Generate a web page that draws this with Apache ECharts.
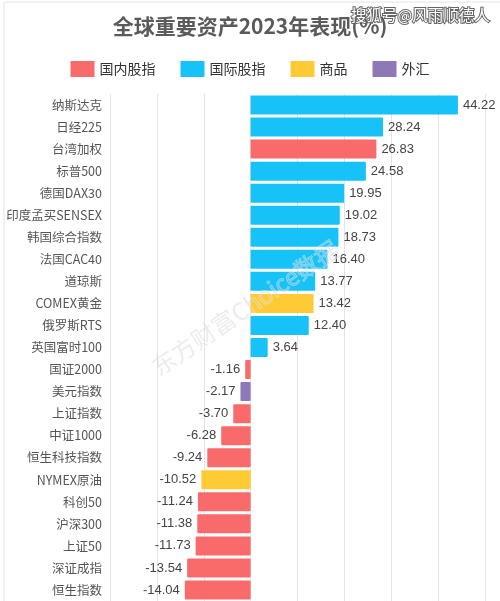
<!DOCTYPE html>
<html><head><meta charset="utf-8">
<script src="https://cdn.jsdelivr.net/npm/echarts@6/dist/echarts.min.js"></script>
<style>html,body{margin:0;padding:0;background:#fff}#c{width:500px;height:601px}</style>
</head><body><div id="c"></div>
<script>
const categories = ['纳斯达克','日经225','台湾加权','标普500','德国DAX30','印度孟买SENSEX','韩国综合指数','法国CAC40','道琼斯','COMEX黄金','俄罗斯RTS','英国富时100','国证2000','美元指数','上证指数','中证1000','恒生科技指数','NYMEX原油','科创50','沪深300','上证50','深证成指','恒生指数'];
const values = [44.22,28.24,26.83,24.58,19.95,19.02,18.73,16.40,13.77,13.42,12.40,3.64,-1.16,-2.17,-3.70,-6.28,-9.24,-10.52,-11.24,-11.38,-11.73,-13.54,-14.04];
const types = ['国际股指','国际股指','国内股指','国际股指','国际股指','国际股指','国际股指','国际股指','国际股指','商品','国际股指','国际股指','国内股指','外汇','国内股指','国内股指','国内股指','商品','国内股指','国内股指','国内股指','国内股指','国内股指'];
const typeNames = ['国内股指','国际股指','商品','外汇'];
const typeColors = {'国内股指':'#F96B6B','国际股指':'#16C2F8','商品':'#FFCB35','外汇':'#8E78B8'};

const chart = echarts.init(document.getElementById('c'));
const series = typeNames.map(t => ({
  name: t, type: 'bar', stack: 'all', barWidth: 19,
  itemStyle: {color: typeColors[t], borderRadius: 1},
  label: {show: true, formatter: p => p.value === '-' ? '' : Number(p.value).toFixed(2), color: '#444', fontSize: 13,
    position: 'right', distance: 5},
  data: values.map((v, i) => types[i] === t ? {value: v, label: {position: v >= 0 ? 'right' : 'left'}} : '-')
}));
chart.setOption({
  animation: false,
  title: {text: '全球重要资产2023年表现(%)', left: 'center', top: 11,
    textStyle: {fontSize: 21, fontWeight: 'bold', color: '#5a5a5a', fontFamily: 'Noto Sans CJK SC'}},
  legend: {data: typeNames, top: 56, left: 'center', itemWidth: 24, itemHeight: 16, itemGap: 25,
    icon: 'rect', textStyle: {fontSize: 14, color: '#333', fontFamily: 'Noto Sans CJK SC'}},
  grid: {left: 110, right: 15, top: 94, height: 516, containLabel: false},
  xAxis: {type: 'value', min: -30, max: 50, interval: 10, position: 'bottom',
    axisLabel: {show: false}, axisLine: {show: false}, axisTick: {show: false},
    splitLine: {lineStyle: {color: '#e3e3e3'}}},
  yAxis: {type: 'category', data: categories, inverse: true,
    axisLine: {show: false}, axisTick: {show: false},
    axisLabel: {color: '#555', fontSize: 12.5, margin: 8, fontFamily: 'Noto Sans CJK SC'}},
  series: series,
  graphic: [
    {type: 'rect', shape: {x: 4, y: 2, width: 600, height: 700}, style: {fill: 'none', stroke: '#e3e3e3', lineWidth: 1}, silent: true},
    {type: 'text', left: 350, top: 6, style: {text: '搜狐号@风雨顺德人', fontSize: 15.5, fill: '#fff',
      stroke: '#666', lineWidth: 2, fontFamily: 'Noto Sans CJK SC'}, z: 100},
    {type: 'text', x: 245, y: 308, rotation: Math.PI * 34 / 180, originX: 0, originY: 0,
      style: {text: '东方财富Choice数据', fontSize: 24, fill: 'rgba(200,200,200,0.35)', stroke: 'rgba(255,255,255,0.4)', lineWidth: 1,
        align: 'center', verticalAlign: 'middle', fontFamily: 'Noto Sans CJK SC'}, z: 100}
  ]
});
</script></body></html>
